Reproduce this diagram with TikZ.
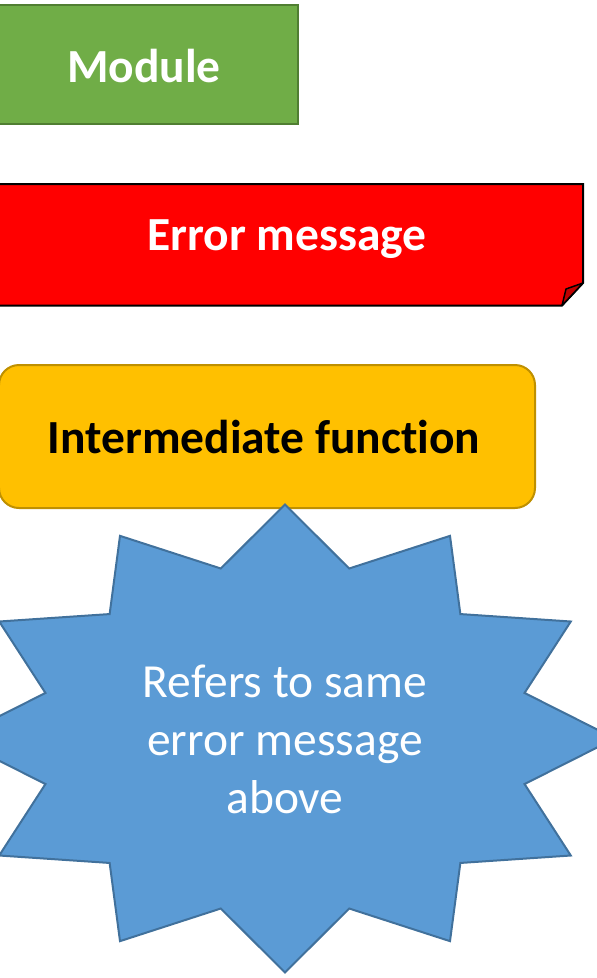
\documentclass[tikz,border=0pt]{standalone}
\usepackage{fontspec}
\setmainfont{Carlito}[Ligatures={NoCommon,NoContextual}]
\definecolor{modgreen}{HTML}{70AD47}
\definecolor{modgreenline}{HTML}{507E32}
\definecolor{errred}{HTML}{FF0000}
\definecolor{folddark}{HTML}{C00000}
\definecolor{intorange}{HTML}{FFC000}
\definecolor{intline}{HTML}{BF9000}
\definecolor{starblue}{HTML}{5B9BD5}
\definecolor{starline}{HTML}{41719C}
\begin{document}
\begin{tikzpicture}[x=1pt,y=-1pt,
  lbl/.style={inner sep=0pt, anchor=base, font=\fontsize{47.5}{58}\selectfont},
  boldlbl/.style={lbl, font=\fontsize{47.5}{58}\selectfont\bfseries},
  boxline/.style={line width=2pt}]
\useasboundingbox (0,0) rectangle (597,978);
\clip (0,0) rectangle (597,978);
% Module
\draw[boxline, fill=modgreen, draw=modgreenline] (-10,5) rectangle (298,124);
\node[boldlbl, text=white] (module) at (144,82) {Module};
% Error message (folded corner)
\draw[boxline, fill=errred, draw=black, line join=miter] (-10,184) -- (583,184) -- (583,283) -- (562,305.5) -- (-10,305.5) -- cycle;
\draw[line width=1.5pt, fill=folddark, draw=black, line join=round] (562,305.5) -- (566,289) -- (583,283) -- cycle;
\node[boldlbl, text=white] (error) at (287,250) {Error message};
% Intermediate function
\draw[boxline, fill=intorange, draw=intline, rounded corners=20pt] (-1,365) rectangle (535,508);
\node[boldlbl] (inter) at (264,453) {Intermediate func\kern0pt tion};
% Star
\draw[line width=2pt, fill=starblue, draw=starline, line join=miter, shift={(285,738.5)}]
  (90:330 and 234)
  \foreach \a in {0,...,11} { -- ({75-30*\a}:248 and 176) -- ({60-30*\a}:330 and 234) } -- cycle;
\node[lbl, text=white] (startext) at (285,697) {\begin{tabular}[t]{@{}c@{}}Refers to same\\error message\\above\end{tabular}};
\end{tikzpicture}
\end{document}
